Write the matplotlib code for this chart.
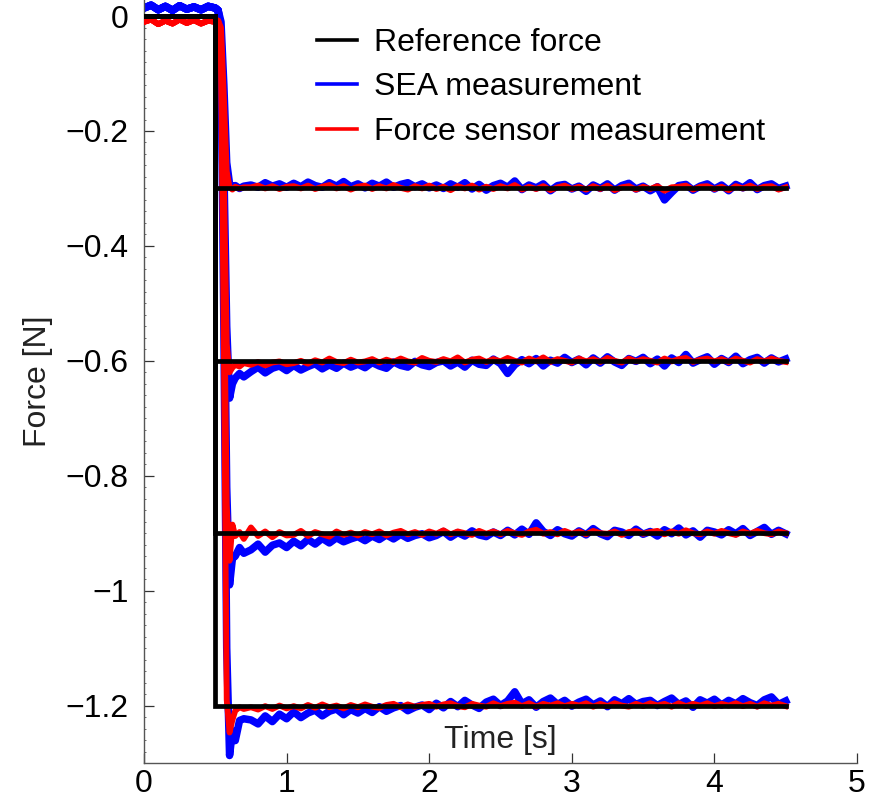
import numpy as np
import matplotlib
matplotlib.use('Agg')
import matplotlib.pyplot as plt
from matplotlib.lines import Line2D
from matplotlib.ticker import MultipleLocator, FuncFormatter

plt.rcParams['font.family'] = ['Liberation Sans', 'DejaVu Sans']

# ================= data (force in mN) =================
levels = [-0.3, -0.6, -0.9, -1.2]
step_time = 0.5
end_time = 4.5

# sample times: before step, transient, steady state
t_pre = np.arange(0.0, 0.501, 0.05)
t_tr = [0.52, 0.54, 0.56, 0.58, 0.60, 0.62, 0.64, 0.67, 0.70]
t_ss = np.arange(0.75, 4.501, 0.05)

sea_pre = [14, 19, 11, 17, 10, 18, 12, 16, 11, 17, 14]
fs_pre = [-10, -6, -14, -8, -13, -6, -12, -7, -13, -8, -10]

sea_tr = {
    -0.3: [10, -10, -120, -255, -292, -298, -295, -300, -296],
    -0.6: [10, -25, -260, -540, -665, -640, -630, -622, -628],
    -0.9: [10, -40, -400, -820, -990, -944, -940, -925, -935],
    -1.2: [10, -55, -540, -1100, -1287, -1244, -1261, -1226, -1223],
}
fs_tr = {
    -0.3: [-8, -20, -140, -270, -298, -302, -297, -300, -298],
    -0.6: [-8, -35, -280, -570, -620, -612, -607, -610, -604],
    -0.9: [-8, -50, -430, -850, -948, -885, -905, -898, -910],
    -1.2: [-8, -65, -580, -1190, -1247, -1225, -1209, -1203, -1206],
}

# steady-state deviation from the level
sea_ss = {
    -0.3: [6, 2, 10, 4, 8, 2,
           9, 3, 11, 5, 2, 10, 4, 12, 3, 8,
           1, 9, 4, 11, 2, 7, 10, 3, 8, 1,
           6, 0, 8, 2, 10, -1, 7, -3, 5, 9,
           2, 13, -2, 6, 1, 8, -4, 5, 7, -1,
           4, -5, 6, 0, 8, -3, 5, 9, -1, 4,
           -4, 3, -20, -7, 5, 7, -3, 4, 8, -1,
           6, -4, 7, 1, 10, -2, 5, 8, 0, 4],
    -0.6: [-19, -11, -21, -13, -9, -17,
           -8, -16, -10, -5, -14, -7, -13, -4, -11, -6,
           -12, -3, -9, -13, -2, -8, -11, -1, -7, -10,
           -3, 0, -9, -2, -11, 1, -6, -8, 3, -5,
           -22, -7, 2, -5, 4, -9, 1, -4, 6, -3,
           3, -7, 5, -4, 7, -2, -8, 4, -1, 6,
           -5, 3, -9, 5, -3, 11, -4, 2, 7, -6,
           4, -3, 8, -5, 2, 6, -4, 5, -2, 3],
    -0.9: [-29, -19, -33, -21, -17, -25,
           -14, -22, -11, -19, -9, -17, -8, -15, -10, -6,
           -13, -5, -11, -3, -10, -2, -9, -4, -1, -8,
           -4, 3, -7, 1, -5, 4, -3, -6, 2, -4,
           5, -3, 7, -2, 18, 3, -4, 6, -1, -5,
           4, -3, 8, -1, -6, 5, 2, -4, 7, -2,
           3, -5, 6, -1, 9, -3, 4, -7, 5, 2,
           -3, 6, -1, 8, -4, 3, 10, -2, 5, -1],
    -1.2: [-25, -32, -18, -28, -15, -23,
           -11, -21, -13, -8, -18, -10, -6, -16, -7, -13,
           -5, -12, -2, -10, -4, 0, -9, -3, 1, -7,
           4, -4, 7, -2, 9, 1, -5, 6, 11, 0,
           8, 24, 3, 10, -3, 7, 13, 2, 9, -1,
           6, 11, 1, 8, -2, 10, 3, 12, 2, 7,
           9, 0, 7, 13, 2, 8, -3, 10, 4, 11,
           1, 9, 3, 12, 5, 0, 10, 15, 2, 8],
}
fs_ss = {
    -0.3: [2, 5, 0, 4, -1, 3,
           4, 0, 5, -1, 3, 6, 0, 4, -2, 3,
           5, -1, 4, 0, 6, 1, -2, 4, 0, 5,
           -1, 3, -3, 4, 0, 5, -2, 3, -1, 4,
           0, 6, -2, 3, -1, 4, -3, 2, 5, -1,
           3, -2, 4, -1, 5, -3, 2, 4, -2, 3,
           -1, 4, -4, 2, 3, 5, -2, 3, 4, -1,
           3, -3, 4, 0, 5, -1, 3, 4, -2, 2],
    -0.6: [-7, -2, -8, -3, -1, -6,
           -4, 0, -5, 1, -3, 4, -2, -4, 2, -3,
           -1, 3, -3, 2, -2, 4, -1, -3, 5, 0,
           -2, 3, -1, 6, -3, 2, 4, -2, 3, -1,
           5, 0, -3, 4, -1, 6, -2, 3, 0, -3,
           4, -1, 3, -2, 5, 0, -3, 4, -1, 3,
           0, -3, 4, -1, 3, 5, -2, 2, 4, -1,
           3, -2, 4, 0, -3, 3, -1, 4, 0, -2],
    -0.9: [10, -5, 3, -7, 2, -4,
           -3, 4, -5, 2, -2, -6, 3, -3, 1, -4,
           2, -2, 3, -4, 1, 4, -2, 2, -3, 3,
           -1, 5, -2, 3, 0, -3, 4, -1, 3, -2,
           4, 0, -3, 3, 6, -1, 2, -2, 4, -1,
           3, -2, 4, 0, -1, 3, -3, 2, 4, -1,
           2, 4, -2, 3, -1, 5, 0, -2, 3, -1,
           4, 0, -3, 3, -1, 4, 0, -2, 3, 0],
    -1.2: [-3, -7, -1, -6, 0, -5,
           -1, -5, 1, -4, 2, -3, 0, -5, 1, -3,
           2, -2, -4, 1, 3, -3, 2, -2, 1, 3,
           -2, 2, 4, -1, -3, 3, 0, -2, 4, -1,
           3, 5, -1, 4, -2, 3, 0, 4, -1, 3,
           0, 4, -2, 3, -1, 4, 0, -2, 3, -1,
           4, 0, 3, -2, 4, -1, 3, 0, 4, -1,
           3, 0, 4, -1, 3, -2, 4, 0, 3, -1],
}

yticks = [-1.2, -1.0, -0.8, -0.6, -0.4, -0.2, 0.0]
xticks = [0, 1, 2, 3, 4, 5]


def build_trace(pre, tr, ss, level):
    t = np.concatenate([t_pre, t_tr, t_ss])
    f = np.concatenate([np.array(pre) / 1000.0,
                        np.array(tr) / 1000.0,
                        level + np.array(ss) / 1000.0])
    return t, f


# ================= plot =================
fig = plt.figure(figsize=(8.7, 8.0), dpi=100)
ax = fig.add_axes([144 / 870, 37 / 800, 713 / 870, 763 / 800])

for lev in levels:
    t, f = build_trace(sea_pre, sea_tr[lev], sea_ss[lev], lev)
    ax.plot(t, f, color='#0000ff', lw=5.4, solid_joinstyle='round', zorder=2)
for lev in levels:
    t, f = build_trace(fs_pre, fs_tr[lev], fs_ss[lev], lev)
    ax.plot(t, f, color='#ff0000', lw=4.2, solid_joinstyle='round', zorder=3)
for lev in levels:
    ax.plot([0, step_time, step_time, end_time], [0, 0, lev, lev],
            color='black', lw=3.4, solid_joinstyle='miter', zorder=4)

ax.set_xlim(0, 5)
ax.set_ylim(-1.3, 0.028)
ax.set_xticks(xticks)
ax.set_yticks(yticks)
ax.yaxis.set_minor_locator(MultipleLocator(0.02))
ax.yaxis.set_major_formatter(FuncFormatter(lambda v, p: f'{v:g}'.replace('-', '\u2212')))

ax.spines['top'].set_visible(False)
ax.spines['right'].set_visible(False)
for s in ['left', 'bottom']:
    ax.spines[s].set_color('#555555')
    ax.spines[s].set_linewidth(1.0)

ax.tick_params(axis='both', which='major', direction='in', length=7.5, width=0.9,
               color='#333333', labelsize=23, labelcolor='black')
ax.tick_params(axis='y', which='major', pad=11)
ax.tick_params(axis='x', which='major', pad=4)
ax.tick_params(axis='y', which='minor', direction='in', length=1.5, width=0.6, color='#555555')

ax.set_ylabel('Force [N]', fontsize=23, color='#222222')
ax.yaxis.set_label_coords(-0.128, 0.5)
ax.set_xlabel('Time [s]', fontsize=23, color='#222222')
ax.xaxis.set_label_coords(0.5, 0.05)

handles = [Line2D([], [], color='black', lw=2.6),
           Line2D([], [], color='#0000ff', lw=2.6),
           Line2D([], [], color='#ff0000', lw=2.6)]
labels = ['Reference force', 'SEA measurement', 'Force sensor measurement']
ax.legend(handles, labels, loc='upper left', bbox_to_anchor=(317 / 870, 1 - 28 / 800),
          bbox_transform=fig.transFigure, frameon=False, fontsize=23,
          handlelength=1.25, handletextpad=0.55, labelspacing=0.45,
          borderpad=0, borderaxespad=0)

fig.savefig('out.png', dpi=100, facecolor='white')
